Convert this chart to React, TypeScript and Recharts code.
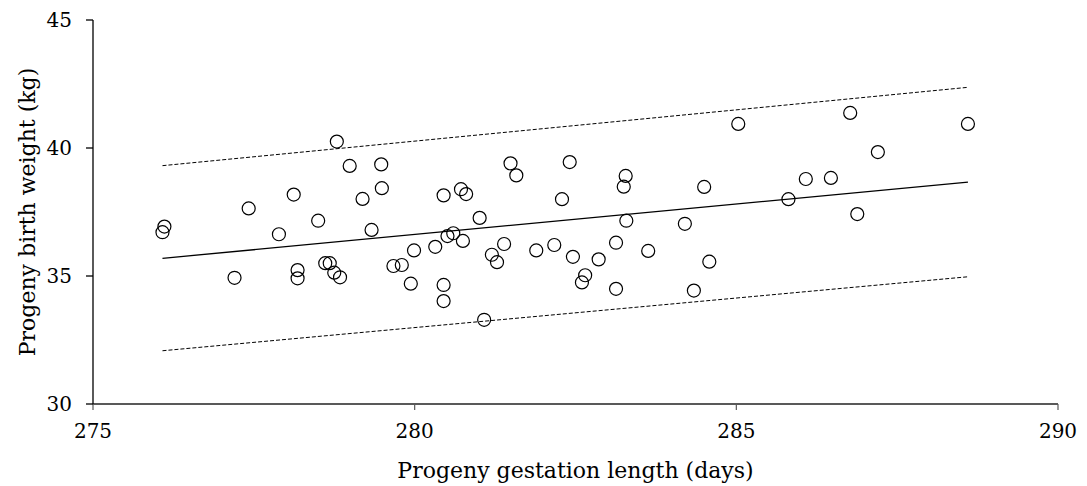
import React from 'react';
import { ScatterChart, Scatter, XAxis, YAxis, Label } from 'recharts';

const gestation = [
  276.11, 276.08, 277.2, 277.42, 277.89, 278.12, 278.18, 278.18, 278.5, 278.61,
  278.68, 278.75, 278.84, 278.79, 278.99, 279.19, 279.33, 279.48, 279.49, 279.67,
  279.8, 279.99, 279.94, 280.45, 280.32, 280.45, 280.45, 280.51, 280.6, 280.75,
  280.72, 280.8, 281.01, 281.08, 281.2, 281.28, 281.39, 281.49, 281.58, 281.89,
  282.17, 282.29, 282.41, 282.46, 282.65, 282.6, 282.86, 283.13, 283.13, 283.28,
  283.25, 283.29, 283.63, 284.2, 284.34, 284.5, 284.58, 285.03, 285.81, 286.08,
  286.47, 286.77, 286.88, 287.2, 288.6,
];
const birthWeight = [
  36.93, 36.71, 34.93, 37.64, 36.63, 38.18, 35.23, 34.91, 37.16, 35.5,
  35.5, 35.13, 34.95, 40.25, 39.3, 38.01, 36.8, 39.36, 38.43, 35.39,
  35.43, 36.0, 34.7, 38.15, 36.14, 34.65, 34.02, 36.56, 36.67, 36.37,
  38.39, 38.2, 37.27, 33.29, 35.83, 35.54, 36.25, 39.4, 38.93, 36.0,
  36.21, 38.0, 39.45, 35.75, 35.03, 34.75, 35.65, 36.3, 34.5, 38.91,
  38.49, 37.16, 35.98, 37.04, 34.43, 38.48, 35.56, 40.94, 38.0, 38.79,
  38.83, 41.37, 37.42, 39.84, 40.94,
];

// regression line and prediction band end points
const fitX = [276.08, 288.6];
const fitY = [35.69, 38.67];
const upperY = [39.31, 42.37];
const lowerY = [32.08, 34.97];

const xTicks = [275, 280, 285, 290];
const yTicks = [30, 35, 40, 45];

const FONT = '"DejaVu Serif", serif';

const points = gestation.map((x, i) => ({ x, y: birthWeight[i] }));
const fit = fitX.map((x, i) => ({ x, y: fitY[i] }));
const upper = fitX.map((x, i) => ({ x, y: upperY[i] }));
const lower = fitX.map((x, i) => ({ x, y: lowerY[i] }));

const Ring = (props: any) => (
  <circle cx={props.cx} cy={props.cy} r={6.5} fill="none" stroke="#000" strokeWidth={1.2} />
);
const NoDot = () => <g />;

const XTitle = (props: any) => {
  const vb = props.viewBox;
  return (
    <text x={vb.x + vb.width / 2} y={478} textAnchor="middle" fontFamily={FONT} fontSize={22} fill="#000">
      Progeny gestation length (days)
    </text>
  );
};

const YTitle = (props: any) => {
  const vb = props.viewBox;
  const cx = 27;
  const cy = vb.y + vb.height / 2;
  return (
    <text x={cx} y={cy} transform={`rotate(-90 ${cx} ${cy})`} textAnchor="middle" dominantBaseline="central"
      fontFamily={FONT} fontSize={22} fill="#000">
      Progeny birth weight (kg)
    </text>
  );
};

export default function App() {
  return (
    <div style={{ position: 'absolute', left: 0, top: 0, background: '#fff' }}>
      <ScatterChart width={1087} height={486} margin={{ top: 20, right: 29, bottom: 0, left: 0 }}>
        <XAxis type="number" dataKey="x" domain={[275, 290]} ticks={xTicks} allowDataOverflow
          axisLine={{ stroke: '#595959', strokeWidth: 2 }} tickLine={{ stroke: '#595959', strokeWidth: 1.2 }}
          tickSize={6} tickMargin={14} height={82}
          tick={{ fill: '#000', fontFamily: FONT, fontSize: 20 }}>
          <Label content={<XTitle />} />
        </XAxis>
        <YAxis type="number" dataKey="y" domain={[30, 45]} ticks={yTicks} allowDataOverflow
          axisLine={{ stroke: '#000', strokeWidth: 1.3 }} tickLine={{ stroke: '#000', strokeWidth: 1.3 }}
          tickSize={7} tickMargin={14} width={93}
          tick={{ fill: '#000', fontFamily: FONT, fontSize: 20 }}>
          <Label content={<YTitle />} />
        </YAxis>
        <Scatter data={upper} shape={NoDot} line={{ stroke: '#000', strokeWidth: 1, strokeDasharray: '4 2' }} isAnimationActive={false} />
        <Scatter data={lower} shape={NoDot} line={{ stroke: '#000', strokeWidth: 1, strokeDasharray: '4 2' }} isAnimationActive={false} />
        <Scatter data={fit} shape={NoDot} line={{ stroke: '#000', strokeWidth: 1.3 }} isAnimationActive={false} />
        <Scatter data={points} shape={Ring} isAnimationActive={false} />
      </ScatterChart>
    </div>
  );
}
